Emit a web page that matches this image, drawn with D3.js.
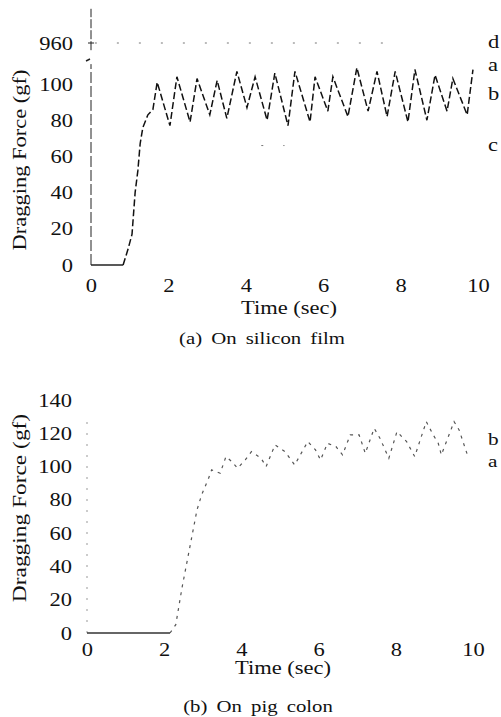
<!DOCTYPE html>
<html>
<head>
<meta charset="utf-8">
<script src="https://cdn.jsdelivr.net/npm/d3@7"></script>
<style>
body { margin: 0; background: #fff; }
text { font-family: "Liberation Serif", "Times New Roman", serif; fill: #111; }
</style>
</head>
<body>
<svg id="fig" width="501" height="717"></svg>
<script>
// (a) on silicon film
var timeA = [0, 0.83, 0.96, 1.06, 1.14, 1.21, 1.27, 1.34, 1.47, 1.60,
	1.71, 2.04, 2.22, 2.56, 2.74, 3.07, 3.26, 3.51, 3.77, 4.03,
	4.24, 4.55, 4.75, 5.09, 5.27, 5.66, 5.79, 6.12, 6.25, 6.64,
	6.87, 7.16, 7.39, 7.65, 7.86, 8.19, 8.37, 8.68, 8.89, 9.20,
	9.35, 9.72, 9.87];
var forceA = [0, 0, 9, 17, 40, 52, 67, 76, 83, 86,
	101, 77, 104, 79, 103, 83, 102, 81, 107, 87,
	104, 80, 106, 77, 107, 79, 104, 85, 104, 82,
	109, 85, 107, 82, 107, 79, 108, 80, 105, 85,
	103, 83, 108];
var yTicksA = [0, 20, 40, 60, 80, 100, 960];
var levelNamesA = ["d", "a", "b", "c"];
var levelValuesA = [960, 110, 94, 66];
var refValuesA = [960, 66];
var refStartA = [0.1, 4.4];
var refEndA = [7.6, 5.0];

// (b) on pig colon
var timeB = [0, 2.15, 2.3, 2.46, 2.85, 2.97, 3.15, 3.23, 3.45,
	3.6, 3.75, 3.9, 4.1, 4.26, 4.51, 4.64, 4.87, 5.13, 5.38,
	5.72, 5.92, 6.05, 6.23, 6.45, 6.62, 6.82, 7.05, 7.21, 7.44,
	7.59, 7.82, 8.03, 8.28, 8.49, 8.79, 8.97, 9.1, 9.18, 9.51,
	9.64, 9.87];
var forceB = [0, 0, 5, 27, 74, 83, 93, 98, 96,
	106, 103, 99, 104, 109, 105, 100, 113, 109, 101,
	115, 110, 104, 114, 112, 107, 119, 119, 108, 123,
	117, 105, 121, 115, 106, 127, 119, 114, 107, 127,
	122, 106];
var yTicksB = [0, 20, 40, 60, 80, 100, 120, 140];
var levelNamesB = ["b", "a"];
var levelValuesB = [116, 103];

var xTicks = [0, 2, 4, 6, 8, 10];

var svg = d3.select("#fig");
var sx = 1.25; // the scan is stretched sideways

function wideText(g, x, y, str, size, stretch) {
	return g.append("text")
		.attr("transform", "translate(" + x + "," + y + ") scale(" + stretch + ",1)")
		.attr("text-anchor", "middle")
		.style("font-size", size + "px")
		.text(str);
}

function styleTicks(g, size) {
	g.attr("font-family", null).attr("font-size", null);
	g.select(".domain").remove();
	g.selectAll("line").remove();
	g.selectAll("text").style("font-size", size + "px").attr("fill", "#111");
}

// ---------- panel (a) ----------
var xA = d3.scaleLinear().domain([0, 10]).range([91, 478]);
// broken axis: 0-112 normal, then jump to the 960 band
var yA = d3.scaleLinear().domain([0, 112, 955, 975]).range([265, 62.3, 52, 16]);

var gA = svg.append("g");

gA.append("line").attr("x1", xA(0)).attr("x2", xA(0)).attr("y1", yA(0)).attr("y2", yA(111))
	.style("stroke", "#222").style("stroke-width", 1).style("stroke-dasharray", "11,3");
gA.append("line").attr("x1", xA(0)).attr("x2", xA(0)).attr("y1", yA(956)).attr("y2", yA(979))
	.style("stroke", "#222").style("stroke-width", 1).style("stroke-dasharray", "9,2");
gA.append("line").attr("x1", xA(0) - 5).attr("x2", xA(0) - 1).attr("y1", 61).attr("y2", 59)
	.style("stroke", "#222").style("stroke-width", 1.5);
gA.append("line").attr("x1", xA(0) - 3).attr("x2", xA(0) + 3).attr("y1", yA(960)).attr("y2", yA(960))
	.style("stroke", "#222").style("stroke-width", 1);

var axYA = gA.append("g").attr("transform", "translate(" + xA(0) + ",0)")
	.call(d3.axisLeft(yA).tickValues(yTicksA).tickSize(0).tickFormat(d3.format("d")));
styleTicks(axYA, 18);
axYA.selectAll("text").attr("x", -18 / sx).attr("dy", "0.34em").attr("transform", "scale(" + sx + ",1)");

var axXA = gA.append("g").attr("transform", "translate(0," + yA(0) + ")")
	.call(d3.axisBottom(xA).tickValues(xTicks).tickSize(0));
styleTicks(axXA, 18);
axXA.selectAll("text").attr("y", 27).attr("dy", 0).attr("transform", "scale(" + sx + ",1)");

// reference levels
refValuesA.forEach(function(v, i) {
	gA.append("line")
		.attr("x1", xA(refStartA[i])).attr("x2", xA(refEndA[i]))
		.attr("y1", yA(v)).attr("y2", yA(v))
		.style("stroke", "#777").style("stroke-width", 1).style("stroke-dasharray", "2,20");
});

var lineA = d3.line().x(function(d) { return xA(d.t); }).y(function(d) { return yA(d.f); });
var ptsA = timeA.map(function(t, i) { return { t: t, f: forceA[i] }; });

gA.append("path").datum(ptsA.filter(function(d) { return d.t <= 0.83; }))
	.attr("d", lineA).style("fill", "none").style("stroke", "#222").style("stroke-width", 1.3);
gA.append("path").datum(ptsA.filter(function(d) { return d.t >= 0.83; }))
	.attr("d", lineA).style("fill", "none").style("stroke", "#111").style("stroke-width", 1.5)
	.style("stroke-dasharray", "7,3");

levelNamesA.forEach(function(n, i) {
	gA.append("text").attr("x", 488).attr("y", yA(levelValuesA[i])).attr("dy", "0.3em")
		.attr("transform", "translate(" + (488 - 488 * sx) + ",0) scale(" + sx + ",1)")
		.style("font-size", "18px").text(n);
});

gA.append("text")
	.attr("transform", "translate(20,160) rotate(-90) scale(1.25,1)")
	.attr("text-anchor", "middle").attr("dy", "0.35em")
	.style("font-size", "18px").text("Dragging Force (gf)");
wideText(gA, 289, 314, "Time (sec)", 18, sx);
wideText(gA, 262, 344, "(a) On silicon film", 16, 1.3).style("word-spacing", "3px");

// ---------- panel (b) ----------
var xB = d3.scaleLinear().domain([0, 10]).range([87, 473]);
var yB = d3.scaleLinear().domain([0, 140]).range([633, 400]);

var gB = svg.append("g");

gB.append("line").attr("x1", xB(0)).attr("x2", xB(0)).attr("y1", yB(0)).attr("y2", yB(132))
	.style("stroke", "#999").style("stroke-width", 1).style("stroke-dasharray", "2,9");

var axYB = gB.append("g").attr("transform", "translate(" + xB(0) + ",0)")
	.call(d3.axisLeft(yB).tickValues(yTicksB).tickSize(0));
styleTicks(axYB, 18);
axYB.selectAll("text").attr("x", -15 / sx).attr("dy", "0.34em").attr("transform", "scale(" + sx + ",1)");

var axXB = gB.append("g").attr("transform", "translate(0," + yB(0) + ")")
	.call(d3.axisBottom(xB).tickValues(xTicks).tickSize(0));
styleTicks(axXB, 18);
axXB.selectAll("text").attr("y", 23).attr("dy", 0).attr("transform", "scale(" + sx + ",1)");

var lineB = d3.line().x(function(d) { return xB(d.t); }).y(function(d) { return yB(d.f); });
var ptsB = timeB.map(function(t, i) { return { t: t, f: forceB[i] }; });

gB.append("path").datum(ptsB.filter(function(d) { return d.t <= 2.15; }))
	.attr("d", lineB).style("fill", "none").style("stroke", "#333").style("stroke-width", 1.4);
gB.append("path").datum(ptsB.filter(function(d) { return d.t >= 2.15; }))
	.attr("d", lineB).style("fill", "none").style("stroke", "#555").style("stroke-width", 1.2)
	.style("stroke-dasharray", "3,5");

levelNamesB.forEach(function(n, i) {
	gB.append("text").attr("x", 488).attr("y", yB(levelValuesB[i])).attr("dy", "0.3em")
		.attr("transform", "translate(" + (488 - 488 * sx) + ",0) scale(" + sx + ",1)")
		.style("font-size", "17px").text(n);
});

gB.append("text")
	.attr("transform", "translate(20,508) rotate(-90) scale(1.3,1)")
	.attr("text-anchor", "middle").attr("dy", "0.35em")
	.style("font-size", "18px").text("Dragging Force (gf)");
wideText(gB, 283, 674, "Time (sec)", 18, sx);
wideText(gB, 258, 712, "(b) On pig colon", 16, 1.3).style("word-spacing", "3px");
</script>
</body>
</html>
